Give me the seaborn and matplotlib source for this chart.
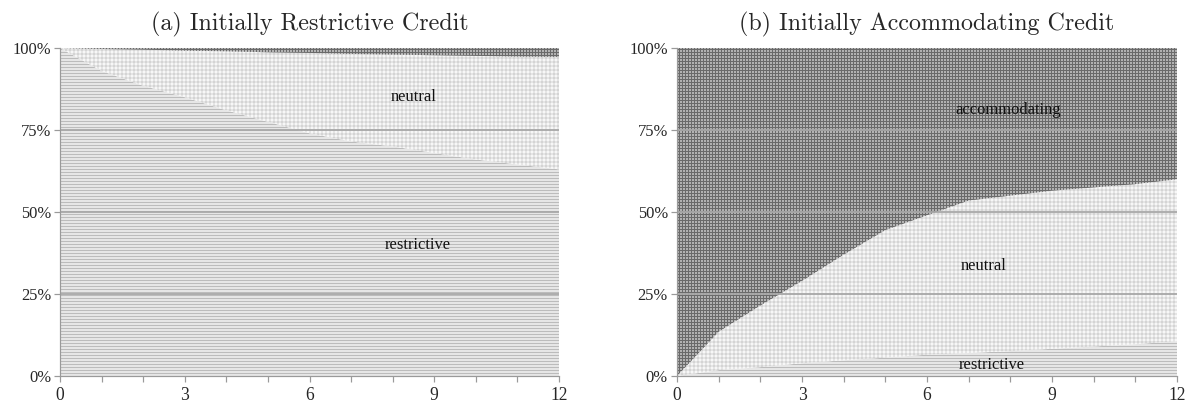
import numpy as np
import pandas as pd
import matplotlib
matplotlib.use("Agg")
import matplotlib.pyplot as plt
from matplotlib.ticker import FixedLocator, FuncFormatter
import seaborn as sns

# Months after the initial credit state
months = list(range(13))

# (a) Initially restrictive credit: cumulative shares (%) of the upper edge of each regime
a_restrictive_top = [100, 93, 88.5, 85, 81, 77.5, 74, 71.5, 70, 68, 66, 64.5, 63]
a_neutral_top = [100, 99.7, 99.5, 99.2, 99.0, 98.7, 98.5, 98.2, 98.0, 97.8, 97.6, 97.4, 97.3]

# (b) Initially accommodating credit
b_restrictive_top = [0, 1.8, 2.7, 3.9, 4.8, 5.6, 6.5, 7.0, 7.6, 8.3, 9.0, 9.7, 10.6]
b_neutral_top = [0, 13.5, 21.5, 29.0, 37.0, 44.5, 49.0, 53.5, 55.0, 56.5, 57.5, 58.5, 60.0]

panel_titles = ["(a) Initially Restrictive Credit", "(b) Initially Accommodating Credit"]
regime_names = ["restrictive", "neutral", "accommodating"]

x_ticks_major = [0, 3, 6, 9, 12]
y_ticks = [0, 25, 50, 75, 100]

# At 72 dpi one point is one pixel, so the hatch patterns land on whole pixels.
DPI = 72
W, H = 1191, 406

sns.set_style("white")
plt.rcParams["hatch.linewidth"] = 1.0
plt.rcParams["font.family"] = ["Liberation Serif", "DejaVu Serif"]

styles = {
    "restrictive": dict(facecolor="#e6e6e6", edgecolor="#bcbcbc", hatch="----"),
    "neutral": dict(facecolor="#f7f7f7", edgecolor="#d4d4d4", hatch="+++"),
    "accommodating": dict(facecolor="#b2b2b2", edgecolor="#6a6a6a", hatch="++++"),
}

fig = plt.figure(figsize=(W / DPI, H / DPI), dpi=DPI)
ax_a = fig.add_axes([60 / W, 30 / H, 499 / W, 328 / H])
ax_b = fig.add_axes([677 / W, 30 / H, 500 / W, 328 / H])

panels = [
    (ax_a, a_restrictive_top, a_neutral_top,
     [("neutral", 8.5, 85), ("restrictive", 8.6, 40)]),
    (ax_b, b_restrictive_top, b_neutral_top,
     [("accommodating", 7.95, 81), ("neutral", 7.35, 33.5), ("restrictive", 7.55, 3.4)]),
]

for (ax, r_top, n_top, labels), title in zip(panels, panel_titles):
    df = pd.DataFrame({
        "month": months,
        "restrictive": r_top,
        "neutral": n_top,
    })
    x = df["month"].to_numpy()
    r = df["restrictive"].to_numpy(dtype=float)
    n = df["neutral"].to_numpy(dtype=float)
    top = np.full_like(r, 100.0)

    ax.fill_between(x, 0, r, linewidth=0, **styles["restrictive"], zorder=1)
    ax.fill_between(x, r, n, linewidth=0, **styles["neutral"], zorder=1)
    ax.fill_between(x, n, top, linewidth=0, **styles["accommodating"], zorder=1)

    # Regime boundaries (no visible stroke, the hatched areas meet directly)
    long = df.melt(id_vars="month", var_name="edge", value_name="share")
    sns.lineplot(data=long, x="month", y="share", units="edge", estimator=None,
                 color="#c8c8c8", linewidth=0.0, ax=ax, legend=False, zorder=2)

    for yv in [25, 50, 75]:
        ax.axhline(yv, color="#a8a8a8", linewidth=1.8, zorder=3)

    ax.set_xlim(0, 12)
    ax.set_ylim(0, 100)
    ax.xaxis.set_major_locator(FixedLocator(x_ticks_major))
    ax.xaxis.set_minor_locator(FixedLocator(months))
    ax.yaxis.set_major_locator(FixedLocator(y_ticks))
    ax.yaxis.set_major_formatter(FuncFormatter(lambda v, p: f"{int(v)}%"))
    ax.tick_params(axis="x", which="both", direction="out", length=6, width=1.2,
                   color="#9a9a9a", bottom=True, labelsize=17.5, pad=5)
    ax.tick_params(axis="y", which="major", direction="out", length=6, width=1.2,
                   color="#9a9a9a", left=True, labelsize=16.5, pad=3)
    ax.set_xlabel("")
    ax.set_ylabel("")
    sns.despine(ax=ax, top=True, right=True)
    for side in ["left", "bottom"]:
        ax.spines[side].set_color("#9a9a9a")
        ax.spines[side].set_linewidth(1.2)
        ax.spines[side].set_zorder(4)

    # Panel title, centred over the axes
    bb = ax.get_position()
    fig.text((bb.x0 + bb.x1) / 2, 1 - 12 / H, title, ha="center", va="top",
             fontsize=24, family=["cmr10", "DejaVu Serif"])

    for name, xv, yv in labels:
        ax.text(xv, yv, name, ha="center", va="center", fontsize=16.5, color="#111111", zorder=5)

fig.savefig("out.png", dpi=DPI)
